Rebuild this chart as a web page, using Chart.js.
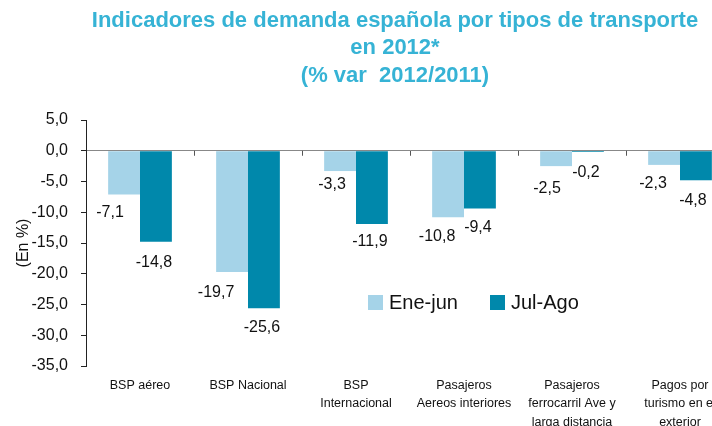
<!DOCTYPE html>
<html>
<head>
<meta charset="utf-8">
<script src="https://cdn.jsdelivr.net/npm/chart.js@4"></script>
<style>
  body { margin: 0; overflow: hidden; background: #fff; }
</style>
</head>
<body>
<canvas id="chart" width="790" height="426"></canvas>
<script>
// data
var categories = [
    'BSP aéreo',
    'BSP Nacional',
    ['BSP', 'Internacional'],
    ['Pasajeros', 'Aereos interiores'],
    ['Pasajeros', 'ferrocarril Ave y', 'larga distancia'],
    ['Pagos por', 'turismo en el', 'exterior']
];
var eneJun = [-7.1, -19.7, -3.3, -10.8, -2.5, -2.3];
var julAgo = [-14.8, -25.6, -11.9, -9.4, -0.2, -4.8];
var seriesNames = ['Ene-jun', 'Jul-Ago'];
var titleLines = ['Indicadores de demanda española por tipos de transporte', 'en 2012*', '(% var  2012/2011)'];

// label nudges so they sit like the original (px, style only)
var labelShiftX = [[-14, -16, -8, -11, -9, -11], [-2, -2, -2, -2, -2, -3]];
var labelShiftY = [[18, 21, 14, 19, 22, 19], [21, 19, 18, 19, 21, 20]];

var FONT = "'Liberation Sans', Arial, sans-serif";
var fmt = function(v) { return v.toFixed(1).replace('.', ','); };

// value labels below each bar
var barLabels = {
    id: 'barLabels',
    afterDatasetsDraw: function(chart) {
        var ctx = chart.ctx;
        ctx.save();
        ctx.font = '16px ' + FONT;
        ctx.fillStyle = '#111';
        ctx.textAlign = 'center';
        ctx.textBaseline = 'middle';
        chart.data.datasets.forEach(function(ds, di) {
            chart.getDatasetMeta(di).data.forEach(function(bar, i) {
                ctx.fillText(fmt(ds.data[i]), bar.x + labelShiftX[di][i], bar.y + labelShiftY[di][i]);
            });
        });
        ctx.restore();
    }
};

// small ticks on the zero line between categories
var zeroTicks = {
    id: 'zeroTicks',
    beforeDatasetsDraw: function(chart) {
        var ctx = chart.ctx, x = chart.scales.x, y0 = chart.scales.y.getPixelForValue(0);
        var step = (x.right - x.left) / categories.length;
        ctx.save();
        ctx.strokeStyle = '#555';
        ctx.lineWidth = 1;
        for (var i = 1; i < categories.length; i++) {
            var px = Math.round(x.left + i * step) + 0.5;
            ctx.beginPath();
            ctx.moveTo(px, y0);
            ctx.lineTo(px, y0 + 5);
            ctx.stroke();
        }
        ctx.restore();
    }
};

// legend sitting inside the plot
var innerLegend = {
    id: 'innerLegend',
    afterDraw: function(chart) {
        var ctx = chart.ctx;
        var spots = [368, 490];
        ctx.save();
        ctx.font = '20px ' + FONT;
        ctx.textBaseline = 'middle';
        chart.data.datasets.forEach(function(ds, i) {
            ctx.fillStyle = ds.backgroundColor;
            ctx.fillRect(spots[i], 295, 15, 15);
            ctx.fillStyle = '#111';
            ctx.fillText(ds.label, spots[i] + 21, 303);
        });
        ctx.restore();
    }
};

new Chart(document.getElementById('chart'), {
    type: 'bar',
    data: {
        labels: categories,
        datasets: [{
            label: seriesNames[0],
            data: eneJun,
            backgroundColor: '#A5D3E8'
        }, {
            label: seriesNames[1],
            data: julAgo,
            backgroundColor: '#0088AB'
        }]
    },
    options: {
        responsive: false,
        animation: false,
        layout: { padding: 0 },
        datasets: { bar: { barPercentage: 1, categoryPercentage: 0.59 } },
        plugins: {
            legend: { display: false },
            tooltip: { enabled: false },
            title: {
                display: true,
                text: titleLines,
                color: '#36B3D5',
                font: { family: FONT, size: 22, weight: 'bold', lineHeight: 1.25 },
                padding: { top: 7, bottom: 30.5 }
            }
        },
        scales: {
            x: {
                grid: { display: false },
                border: { display: false },
                ticks: {
                    color: '#111',
                    padding: 2,
                    maxRotation: 0,
                    autoSkip: false,
                    font: { family: FONT, size: 12.5, lineHeight: 1.48 }
                },
                afterFit: function(s) { s.height = 60; }
            },
            y: {
                min: -35,
                max: 5,
                ticks: {
                    stepSize: 5,
                    color: '#111',
                    padding: 13,
                    font: { family: FONT, size: 16 },
                    callback: function(v) { return fmt(v); }
                },
                grid: {
                    color: function(c) { return c.tick && c.tick.value === 0 ? '#888' : 'rgba(0,0,0,0)'; },
                    tickColor: '#222',
                    tickLength: 5
                },
                border: { display: true, color: '#222' },
                title: {
                    display: true,
                    text: '(En %)',
                    color: '#111',
                    font: { family: FONT, size: 16 },
                    padding: { top: 14, bottom: 0 }
                },
                afterFit: function(s) { s.width = 86; }
            },
            // empty right-hand strip so the plot runs past the window edge
            yRight: {
                position: 'right',
                ticks: { display: false },
                grid: { display: false },
                border: { display: false },
                afterFit: function(s) { s.width = 56; }
            }
        }
    },
    plugins: [zeroTicks, barLabels, innerLegend]
});
</script>
</body>
</html>
